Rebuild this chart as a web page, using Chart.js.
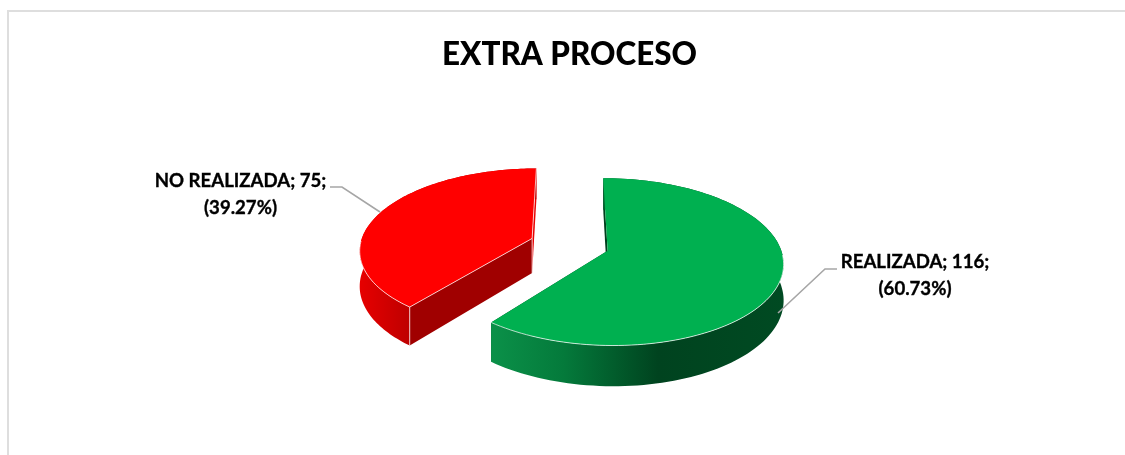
<!DOCTYPE html>
<html><head><meta charset="utf-8">
<script src="https://cdn.jsdelivr.net/npm/chart.js@4"></script>
<style>
html,body{margin:0;padding:0;background:#fff;overflow:hidden}
#wrap{position:relative;width:1125px;height:455px}
#frame{position:absolute;left:7px;top:10px;right:0;bottom:0;border-left:2px solid #dedede;border-top:2px solid #dedede}
canvas{position:absolute;left:0;top:0}
</style></head><body>
<div id="wrap"><div id="frame"></div><canvas id="c" width="1125" height="455"></canvas></div>
<script>
const chartTitle = 'EXTRA PROCESO';
const categories = ['REALIZADA', 'NO REALIZADA'];
const values = [116, 75];
const sliceColors = ['#00B050', '#FF0000'];

// look of the extruded pie: styling only, geometry comes from the arc elements
const TILT = 0.4686, PERSPECTIVE = 0.13, DEPTH = 35;
const wallStops = [
  [[0, '#0B9149'], [0.25, '#047A3B'], [0.57, '#00431F'], [1, '#004A22']],
  [[0, '#E60000'], [1, '#BE0000']]
];
const cutColors = [['#00401E', '#00401E'], ['#A00000', '#E80000']];
const wallRange = [[490, 785], [360, 410]];
const labelStyle = [
  {x: 915, y: 262, leader: [[837, 269], [825, 269], [778, 313]]},
  {x: 240.5, y: 181, leader: [[330, 187], [342, 187], [380, 212]]}
];

const pie3d = {
  id: 'pie3d',
  beforeDatasetDraw(chart) {
    const ctx = chart.ctx;
    const arcs = chart.getDatasetMeta(0).data;
    const order = arcs.map((a, i) => i).sort((p, q) => {
      const mid = a => (arcs[a].startAngle + arcs[a].endAngle) / 2;
      return Math.sin(mid(p)) - Math.sin(mid(q));
    });
    for (const i of order) drawSlice(ctx, arcs[i], i);
    return false;
  }
};

function drawSlice(ctx, arc, i) {
  const R = arc.outerRadius, mid = (arc.startAngle + arc.endAngle) / 2;
  const du = Math.cos(mid) * arc.options.offset / R;
  const dv = Math.sin(mid) * arc.options.offset / R;
  const P = (u, v, h) => {
    const uu = u + du, vv = v + dv, s = 1 / (1 - PERSPECTIVE * vv);
    return [arc.x + R * uu * s, arc.y + R * TILT * vv * s + DEPTH * h * s];
  };
  const N = 120, angles = [];
  for (let k = 0; k <= N; k++) angles.push(arc.startAngle + (arc.endAngle - arc.startAngle) * k / N);
  const rim = h => angles.map(a => P(Math.cos(a), Math.sin(a), h));
  const poly = (pts, fill) => {
    ctx.beginPath();
    pts.forEach((p, k) => k ? ctx.lineTo(p[0], p[1]) : ctx.moveTo(p[0], p[1]));
    ctx.closePath();
    ctx.fillStyle = fill;
    ctx.fill();
  };
  const line = pts => {
    ctx.beginPath();
    pts.forEach((p, k) => k ? ctx.lineTo(p[0], p[1]) : ctx.moveTo(p[0], p[1]));
    ctx.strokeStyle = 'rgba(255,255,255,0.72)';
    ctx.lineWidth = 1;
    ctx.stroke();
  };
  const top = rim(0), bottom = rim(1);
  const a0 = top[0], a1 = top[N], b0 = bottom[0], b1 = bottom[N];
  const apex = P(0, 0, 0), apexB = P(0, 0, 1);

  // cut faces
  poly([apex, a0, b0, apexB], cutColors[i][0]);
  poly([apex, a1, b1, apexB], cutColors[i][1]);
  // outer wall
  const g = ctx.createLinearGradient(wallRange[i][0], 0, wallRange[i][1], 0);
  wallStops[i].forEach(s => g.addColorStop(s[0], s[1]));
  poly(top.concat(bottom.slice().reverse()), g);
  // top face
  poly([apex].concat(top), arc.options.backgroundColor);
  // soft highlights on the visible edges
  const front = top.filter((p, k) => Math.sin(angles[k]) > 0.02);
  line(front);
  if (i === 1) {
    line([a1, apex]);
    line([a0, apex]);
    line([apex, apexB]);
    line([a0, b0]);
  }
}

const sliceLabels = {
  id: 'sliceLabels',
  afterDatasetsDraw(chart) {
    const ctx = chart.ctx;
    const total = values.reduce((a, b) => a + b, 0);
    categories.forEach((name, i) => {
      const st = labelStyle[i];
      ctx.beginPath();
      st.leader.forEach((p, k) => k ? ctx.lineTo(p[0], p[1]) : ctx.moveTo(p[0], p[1]));
      ctx.strokeStyle = '#A6A6A6';
      ctx.lineWidth = 1.6;
      ctx.stroke();
      ctx.fillStyle = '#000';
      ctx.strokeStyle = '#000';
      ctx.lineWidth = 0.35;
      ctx.font = 'bold 18.6px Lato';
      ctx.textAlign = 'center';
      ctx.textBaseline = 'middle';
      const l1 = name + '; ' + values[i] + ';';
      const l2 = '(' + (values[i] / total * 100).toFixed(2) + '%)';
      ctx.fillText(l1, st.x, st.y);
      ctx.strokeText(l1, st.x, st.y);
      ctx.fillText(l2, st.x, st.y + 27);
      ctx.strokeText(l2, st.x, st.y + 27);
    });
  }
};

new Chart(document.getElementById('c'), {
  type: 'pie',
  data: {
    labels: categories,
    datasets: [{data: values, backgroundColor: sliceColors, borderWidth: 0, offset: 40, hoverOffset: 0}]
  },
  options: {
    responsive: false,
    animation: false,
    radius: 172,
    layout: {padding: {left: 14, right: 0, top: 0, bottom: 65}},
    plugins: {
      legend: {display: false},
      tooltip: {enabled: false},
      title: {
        display: true,
        text: chartTitle,
        color: '#000',
        font: {family: 'Lato', size: 31.4, weight: 900, lineHeight: 1.2},
        padding: {top: 36.5, bottom: 25}
      }
    }
  },
  plugins: [pie3d, sliceLabels]
});
</script>
</body></html>
